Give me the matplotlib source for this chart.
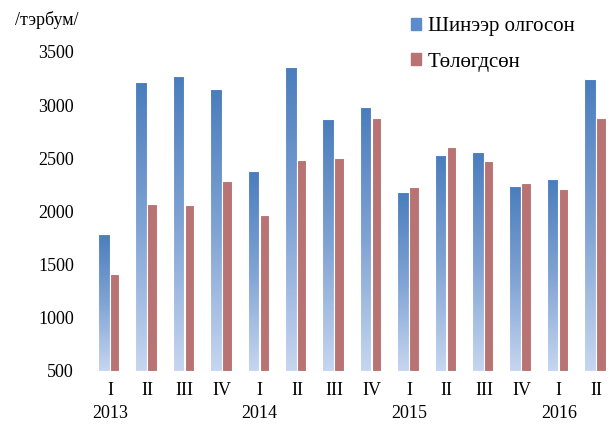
import numpy as np
import matplotlib
matplotlib.use("Agg")
import matplotlib.pyplot as plt
import matplotlib.transforms as mtransforms
from matplotlib.colors import LinearSegmentedColormap
from matplotlib.patches import Patch

plt.rcParams['font.family'] = ['Liberation Serif', 'DejaVu Serif']

# data
quarters = ['I', 'II', 'III', 'IV', 'I', 'II', 'III', 'IV',
            'I', 'II', 'III', 'IV', 'I', 'II']
years = ['2013', '2014', '2015', '2016']
year_pos = [0, 4, 8, 12]
issued = [1790, 3220, 3270, 3150, 2380, 3360, 2870, 2980,
          2180, 2530, 2560, 2240, 2300, 3250]
repaid = [1410, 2070, 2060, 2290, 1970, 2480, 2500, 2880,
          2230, 2610, 2470, 2270, 2210, 2880]
series_names = ['Шинээр олгосон', 'Төлөгдсөн']

W, H = 616, 424
fig = plt.figure(figsize=(W / 100, H / 100), dpi=100)
ax_left, ax_right = 85, 616
ax_top, ax_bot = 52, 370.7
ax = fig.add_axes([ax_left / W, 1 - ax_bot / H,
                   (ax_right - ax_left) / W, (ax_bot - ax_top) / H])

x = np.arange(len(quarters))
base = 500
red = '#b87372'

blue_bars = ax.bar(x - 0.32, np.array(issued) - base, width=0.31, bottom=base,
                   align='edge', facecolor='none', edgecolor='white',
                   linewidth=0.8, zorder=3)
ax.bar(x, np.array(repaid) - base, width=0.25, bottom=base, align='edge',
       color=red, edgecolor='white', linewidth=0.8, zorder=3)

# vertical gradient inside each blue bar
cmap = LinearSegmentedColormap.from_list('bl', ['#c6d6f0', '#80a3d4', '#4a7dbd'])
grad = np.linspace(0, 1, 256).reshape(-1, 1)
for b in blue_bars:
    x0, y0 = b.get_x(), b.get_y()
    im = ax.imshow(grad, extent=[x0, x0 + b.get_width(), y0, y0 + b.get_height()],
                   origin='lower', cmap=cmap, aspect='auto', zorder=2)
    im.set_clip_path(b)

px = 37.4
ax.set_xlim((ax_left - 110) / px, (ax_right - 110) / px)
ax.set_ylim(500, 3500)

for s in ax.spines.values():
    s.set_visible(False)

ax.set_yticks(range(500, 3501, 500))
ax.set_xticks(x, quarters)
ax.tick_params(axis='y', length=0, pad=8, labelsize=13)
ax.tick_params(axis='x', length=0, pad=8, labelsize=13)

trans = mtransforms.blended_transform_factory(ax.transData, ax.transAxes)
for yr, p in zip(years, year_pos):
    ax.text(p, -0.133, yr, transform=trans, ha='center', va='center', fontsize=13)

fig.text(15 / W, 1 - 20 / H, '/тэрбум/', ha='left', va='center', fontsize=13)

handles = [Patch(color='#5b8bc9'), Patch(color=red)]
fig.legend(handles, series_names, loc='upper left',
           bbox_to_anchor=(411 / W, 1 - 17 / H), frameon=False, fontsize=15,
           handlelength=0.5, handleheight=0.5, handletextpad=0.3,
           labelspacing=0.8, borderpad=0, borderaxespad=0)

fig.savefig('out.png', dpi=100)
